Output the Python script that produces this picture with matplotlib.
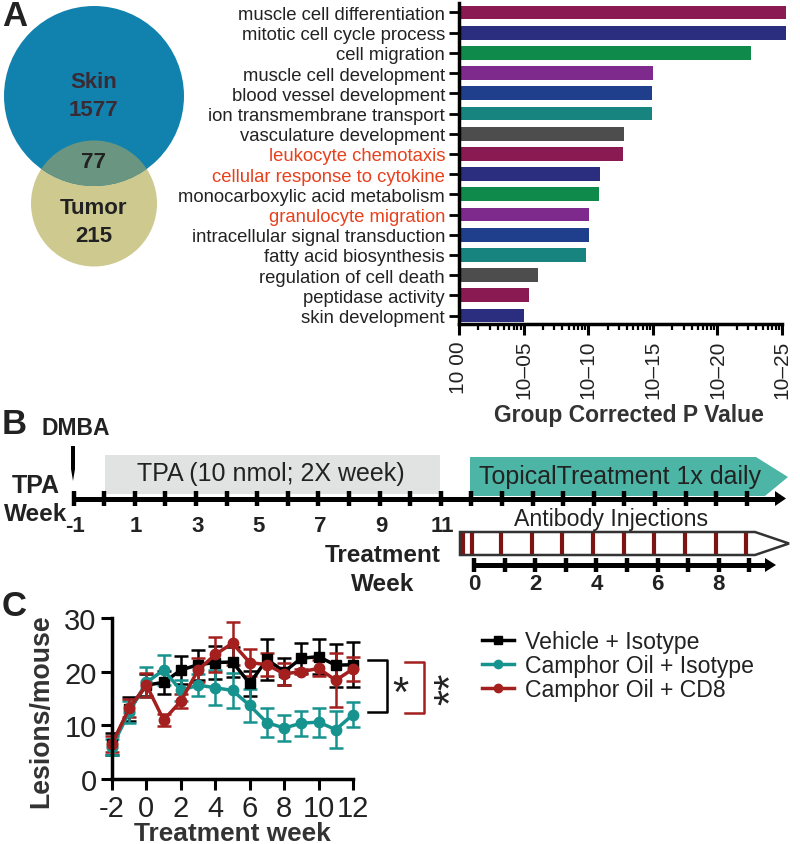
import matplotlib
matplotlib.use('Agg')
import matplotlib.pyplot as plt
import numpy as np
from matplotlib.patches import Circle, Rectangle, Polygon
from matplotlib.lines import Line2D

plt.rcParams['font.family'] = ['Liberation Sans', 'DejaVu Sans']
plt.rcParams['axes.unicode_minus'] = False

# ---------- data ----------
terms = ['muscle cell differentiation', 'mitotic cell cycle process', 'cell migration',
         'muscle cell development', 'blood vessel development', 'ion transmembrane transport',
         'vasculature development', 'leukocyte chemotaxis', 'cellular response to cytokine',
         'monocarboxylic acid metabolism', 'granulocyte migration', 'intracellular signal transduction',
         'fatty acid biosynthesis', 'regulation of cell death', 'peptidase activity', 'skin development']
log_p = [25.3, 25.3, 22.6, 15.0, 14.9, 14.9, 12.8, 12.7, 10.9, 10.8, 10.1, 10.1, 9.8, 6.1, 5.4, 5.0]
bar_colors = ['#8a1a52', '#2b2d7e', '#0f8a4a', '#7d2a8c', '#1f3f8c', '#178480', '#4d4d4d', '#8a1a52',
              '#2b2d7e', '#0f8a4a', '#7d2a8c', '#1f3f8c', '#178480', '#4d4d4d', '#8a1a52', '#2b2d7e']
orange_terms = ['leukocyte chemotaxis', 'cellular response to cytokine', 'granulocyte migration']
x_ticks = [0, 5, 10, 15, 20, 25]
x_tick_labels = ['10 00', '10\u201305', '10\u201310', '10\u201315', '10\u201320', '10\u201325']

weeks = list(range(-2, 13))
vehicle = [6.5, 13, 17.5, 18, 20.3, 21.3, 21.7, 21.8, 17.8, 22.3, 20, 22.5, 22.8, 21.2, 21.3]
vehicle_err = [2, 2.2, 2, 2.2, 2.6, 2.8, 3, 2.8, 2.3, 3.8, 2.5, 2.8, 3.2, 4, 4.2]
camphor = [6.0, 12.5, 18, 20.3, 16.5, 17.5, 17, 16.5, 13.7, 10.5, 9.5, 10.4, 10.6, 9.2, 12]
camphor_err = [1.5, 2, 2.8, 2.8, 2, 2, 3.3, 3.2, 3, 2.7, 2.4, 2.3, 2.7, 3.4, 2.4]
cd8 = [6.5, 13.2, 17.5, 11, 14.5, 20.3, 23.2, 25.3, 21.7, 21.3, 19.6, 20, 20.6, 18.4, 20.5]
cd8_err = [1.5, 1.7, 2.3, 1.2, 1.3, 2.3, 3.2, 4, 2.5, 2.2, 2, 0.5, 1.5, 5, 2.3]

tpa_weeks = ['-1', '1', '3', '5', '7', '9', '11']
treat_weeks = ['0', '2', '4', '6', '8']
injections = [463, 472, 501, 532, 562, 593, 624, 654, 685, 716, 746]

W, H = 800, 845
DARK = '#222222'
fig = plt.figure(figsize=(8, 8.45), dpi=100)
bg = fig.add_axes([0, 0, 1, 1])
bg.set_xlim(0, W); bg.set_ylim(H, 0); bg.axis('off')

def axpx(l, t, r, b):
    return fig.add_axes([l / W, 1 - b / H, (r - l) / W, (b - t) / H])

# panel letters
for s, x, y in [('A', 2, 16), ('B', 2, 425), ('C', 2, 607)]:
    bg.text(x, y, s, fontsize=25, fontweight='bold', va='center', color=DARK)

# ---------- Venn ----------
BLUE, OLIVE, OVER = '#1182ae', '#cdc98f', '#6a9580'
bg.add_patch(Circle((94, 204.5), 63, fc=OLIVE, ec='none'))
bg.add_patch(Circle((94, 97), 90, fc=BLUE, ec='none'))
ov = Circle((94, 204.5), 63, fc=OVER, ec='none')
bg.add_patch(ov)
ov.set_clip_path(Circle((94, 97), 90, transform=bg.transData))
for s, y, c in [('Skin', 83, '#3a2a33'), ('1577', 111, '#3a2a33'), ('77', 163, DARK),
                ('Tumor', 208, DARK), ('215', 236, DARK)]:
    bg.text(94, y, s, ha='center', va='center', fontsize=16, fontweight='bold', color=c)

# ---------- bars ----------
ax = axpx(459, 4, 782, 325)
y = np.arange(len(terms))
ax.barh(y, log_p, height=0.68, color=bar_colors, clip_on=False)
ax.set_ylim(15.42, -0.47)
ax.set_xlim(0, 25)
ax.set_yticks(y)
ax.set_yticklabels(terms, fontsize=13.35, color=DARK)
for lab in ax.get_yticklabels():
    if lab.get_text() in orange_terms:
        lab.set_color('#e8401c')
ax.set_xticks(x_ticks)
ax.set_xticklabels(x_tick_labels, rotation=90, fontsize=15, color=DARK)
minor = [m + 5 * np.log10(k) for m in x_ticks[:-1] for k in range(2, 10)]
ax.set_xticks(minor, minor=True)
ax.tick_params(axis='x', which='major', width=2.2, length=8)
ax.tick_params(axis='x', which='minor', width=1.6, length=4)
ax.tick_params(axis='y', width=2, length=7, pad=3)
for s in ['top', 'right']:
    ax.spines[s].set_visible(False)
for s in ['left', 'bottom']:
    ax.spines[s].set_linewidth(2.5)
bg.text(629, 416, 'Group Corrected P Value', ha='center', va='center', fontsize=16.5, fontweight='bold', color='#333333')

# ---------- timeline B ----------
def bold(x, y, s, size):
    bg.text(x, y, s, ha='center', va='center', fontsize=size, fontweight='bold', color=DARK)

bold(76, 429, 'DMBA', 16.5)
bg.add_patch(Polygon([[71, 447], [75, 447], [75, 470], [73, 482], [71, 470]], fc='black'))
bg.add_patch(Rectangle((104.5, 456), 335.5, 39, fc='#e1e3e2', ec='none'))
bg.text(271, 474, 'TPA (10 nmol; 2X week)', ha='center', va='center', fontsize=18, color=DARK)
bg.add_patch(Polygon([[470, 458], [756, 458], [788, 478], [765, 497], [470, 497]], fc='#4cb5a5', ec='none'))
bg.text(620, 477, 'TopicalTreatment 1x daily', ha='center', va='center', fontsize=18, color=DARK)

bg.plot([73, 778], [499.5, 499.5], color='black', lw=3.6, solid_capstyle='butt')
bg.add_patch(Polygon([[775, 492], [786, 499.5], [775, 507]], fc='black'))
for i in range(23):
    bg.plot([73.5 + 30.6 * i] * 2, [492, 507], color='black', lw=3.2, solid_capstyle='butt')
for i, s in enumerate(tpa_weeks):
    bold(75 + 61.2 * i, 527, s, 16)
bold(36, 486, 'TPA', 18)
bold(36, 515, 'Week', 17.5)

bg.text(611, 520, 'Antibody Injections', ha='center', va='center', fontsize=16.7, color=DARK)
bg.add_patch(Polygon([[460, 533], [755, 533], [789, 544.5], [755, 556], [460, 556]], fc='white', ec='#333333', lw=1.8))
for x in injections:
    bg.plot([x, x], [534, 555], color='#7d1414', lw=3, solid_capstyle='butt')
bold(383, 556, 'Treatment', 17.5)
bold(383, 585, 'Week', 17.5)
bg.plot([474, 770], [566, 566], color='black', lw=3.6, solid_capstyle='butt')
bg.add_patch(Polygon([[765, 559], [776, 566], [765, 573]], fc='black'))
for i in range(10):
    bg.plot([474 + 30.6 * i] * 2, [559, 573], color='black', lw=3.2, solid_capstyle='butt')
for i, s in enumerate(treat_weeks):
    bold(474 + 61.2 * i, 585, s, 16)

# ---------- lesions ----------
cx = axpx(112, 619, 353, 780)
series = [(vehicle, vehicle_err, 'black', 's', 'Vehicle + Isotype'),
          (camphor, camphor_err, '#17938f', 'o', 'Camphor Oil + Isotype'),
          (cd8, cd8_err, '#a3201f', 'o', 'Camphor Oil + CD8')]
handles = []
for vals, err, col, mk, lab in series:
    cx.errorbar(weeks, vals, yerr=err, color=col, marker=mk, ms=7.5, lw=2.5, elinewidth=1.8,
                capsize=5, capthick=1.8, clip_on=False)
    handles.append(Line2D([], [], color=col, marker=mk, ms=6, lw=2.5, label=lab))
cx.set_xlim(-2, 12); cx.set_ylim(0, 30)
cx.set_xticks(range(-2, 13, 2))
cx.set_yticks([0, 10, 20, 30])
cx.tick_params(axis='both', labelsize=21, labelcolor=DARK, width=2.2, length=8, pad=3)
for s in ['top', 'right']:
    cx.spines[s].set_visible(False)
for s in ['left', 'bottom']:
    cx.spines[s].set_linewidth(2.5)
cx.set_xlabel('Treatment week', fontsize=18.9, fontweight='bold', color='#333333', labelpad=-1)
cx.set_ylabel('Lesions/mouse', fontsize=19.2, fontweight='bold', color='#333333')
cx.yaxis.set_label_coords(-0.24, 0.43)
bg.legend(handles=handles, loc='upper left', bbox_to_anchor=(482 / W, 1 - 631 / H), bbox_transform=fig.transFigure,
          frameon=False, fontsize=16.6, labelspacing=0.05, handlelength=1.39, handletextpad=0.48,
          borderpad=0, borderaxespad=0, labelcolor=DARK)

bg.plot([368, 387, 387, 368], [661, 661, 713, 713], color='black', lw=1.8)
bg.plot([405, 424, 424, 405], [663, 663, 714, 714], color='#a3201f', lw=1.8)
bg.text(400, 695, '*', ha='center', va='center', fontsize=30, color=DARK)
bg.text(452, 689, '**', ha='center', va='center', fontsize=30, rotation=90, color=DARK)

fig.savefig('out.png', dpi=100)
